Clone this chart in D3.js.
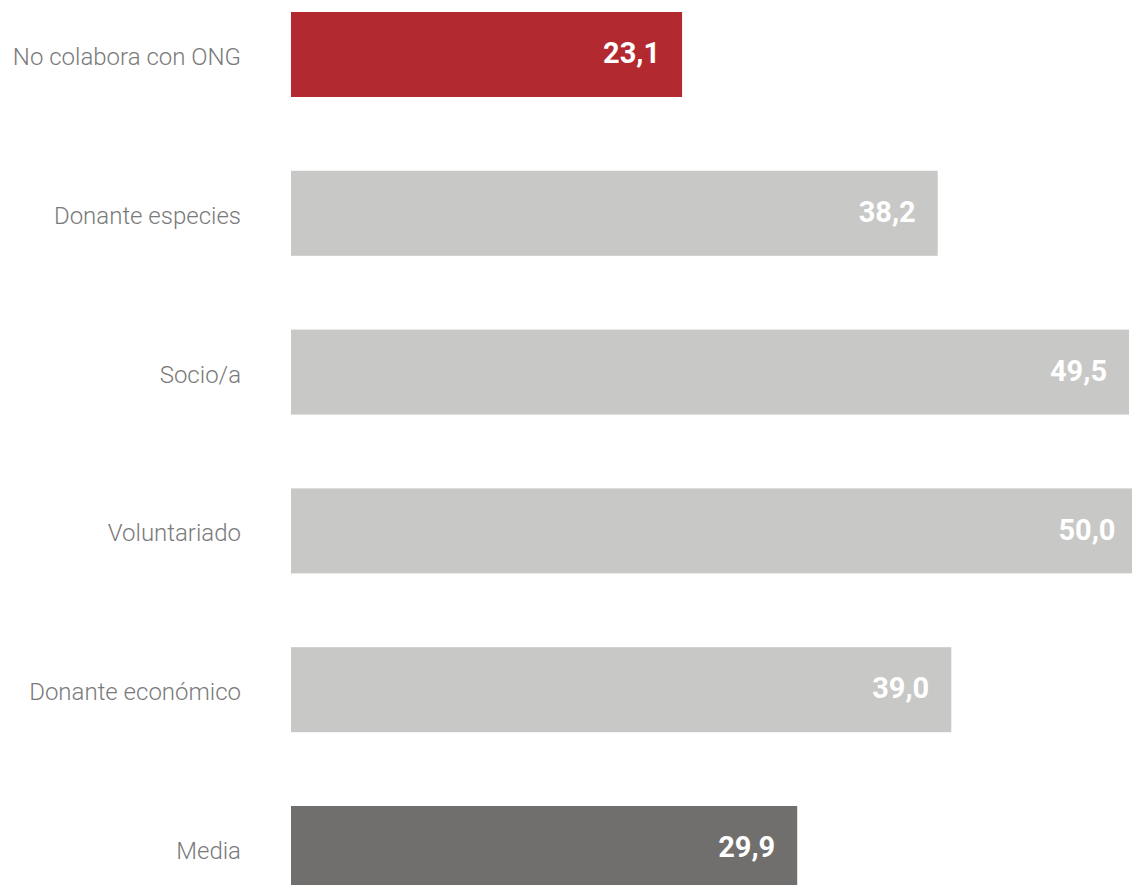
<!DOCTYPE html>
<html><head><meta charset="utf-8">
<script src="https://cdn.jsdelivr.net/npm/d3@7"></script>
<style>body{margin:0;background:#fff;}svg{display:block;}</style>
</head><body>
<script>
const categories = ["No colabora con ONG","Donante especies","Socio/a","Voluntariado","Donante económico","Media"];
const values = [23.1, 38.2, 49.5, 50.0, 39.0, 29.9];
const colors = ["#B22A30","#C8C8C6","#C8C8C6","#C8C8C6","#C8C8C6","#706F6D"];

const W = 1132, H = 885;
const svg = d3.select("body").append("svg").attr("width", W).attr("height", H);
const x = d3.scaleLinear().domain([0, 50]).range([291, 1137.5]);
const y = d3.scaleBand().domain(categories).range([12, 891]).paddingInner(0.4647).paddingOuter(0);
const fmt = v => d3.format(".1f")(v).replace(".", ",");

svg.selectAll("rect.bar").data(categories).join("rect")
  .attr("x", x(0)).attr("y", d => y(d))
  .attr("width", (d,i) => x(values[i]) - x(0))
  .attr("height", y.bandwidth())
  .attr("fill", (d,i) => colors[i]);

svg.selectAll("text.cat").data(categories).join("text")
  .attr("x", 241).attr("y", d => y(d) + y.bandwidth()/2)
  .attr("dy", "0.44em").attr("text-anchor", "end")
  .attr("font-family", "Roboto").attr("font-weight", 300).attr("font-size", 24)
  .attr("fill", "#7a7a7a").text(d => d);

svg.selectAll("text.val").data(categories).join("text")
  .attr("x", (d,i) => x(values[i]) - 22).attr("y", d => y(d) + y.bandwidth()/2)
  .attr("dy", "0.30em").attr("text-anchor", "end")
  .attr("font-family", "Roboto").attr("font-weight", 700).attr("font-size", 29)
  .attr("fill", "#ffffff").text((d,i) => fmt(values[i]));
</script>
</body></html>
